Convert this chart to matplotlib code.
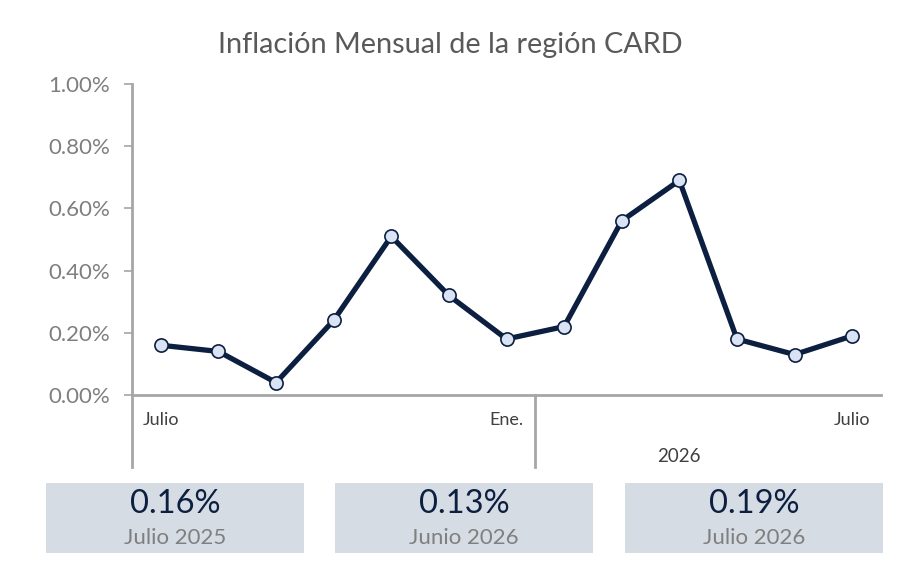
import matplotlib
matplotlib.use('Agg')
import matplotlib.pyplot as plt
from matplotlib.transforms import blended_transform_factory

# data
months = ['Jul', 'Ago', 'Sep', 'Oct', 'Nov', 'Dic', 'Ene', 'Feb', 'Mar', 'Abr', 'May', 'Jun', 'Jul']
inflation = [0.16, 0.14, 0.04, 0.24, 0.51, 0.32, 0.18, 0.22, 0.56, 0.69, 0.18, 0.13, 0.19]
tick_labels = {0: 'Julio', 6: 'Ene.', 12: 'Julio'}
year_label = '2026'
yticks = [0.0, 0.2, 0.4, 0.6, 0.8, 1.0]
card_values = ['0.16%', '0.13%', '0.19%']
card_labels = ['Julio 2025', 'Junio 2026', 'Julio 2026']

NAVY = '#0c1f40'
GRAY = '#7f7f7f'
AXIS = '#a6a6a6'
CARD = '#d6dce4'

plt.rcParams['font.family'] = ['Lato', 'DejaVu Sans']

W, H = 917, 584
fig = plt.figure(figsize=(W / 100, H / 100), dpi=100)
ax = fig.add_axes([132 / W, (H - 395) / H, (881 - 132) / W, (395 - 84) / H])

x = list(range(len(months)))
ax.plot(x, inflation, color=NAVY, lw=3.8, marker='o', ms=9.5,
        markerfacecolor='#dae3f3', markeredgecolor=NAVY, markeredgewidth=1.2,
        clip_on=False, zorder=3)

ax.set_xlim(-0.5, len(months) - 0.5)
ax.set_ylim(0, 1.0)
ax.set_yticks(yticks)
ax.set_yticklabels([f'{v:.2f}%' for v in yticks], color=GRAY, fontsize=16)
ax.tick_params(axis='y', length=6, color=AXIS, width=1.2, pad=10)
ax.set_xticks([])
for s in ['top', 'right']:
    ax.spines[s].set_visible(False)
for s in ['left', 'bottom']:
    ax.spines[s].set_color(AXIS)
    ax.spines[s].set_linewidth(2)

# category labels and group separators below the axis
tr = blended_transform_factory(ax.transData, fig.transFigure)
for i, lab in tick_labels.items():
    ax.text(i, (H - 420) / H, lab, transform=tr, ha='center', va='center',
            fontsize=13, color='#404040')
ax.text(9, (H - 456) / H, year_label, transform=tr, ha='center', va='center',
        fontsize=13.5, color='#404040')
for xs in [-0.5, 6.5]:
    ax.plot([xs, xs], [(H - 395) / H, (H - 467) / H], transform=tr,
            color=AXIS, lw=2, clip_on=False)

fig.text(450 / W, (H - 45) / H, 'Inflación Mensual de la región CARD',
         ha='center', va='center', fontsize=20.8, color='#595959')

# summary cards
card_x = [46, 335, 625]
for cx, val, lab in zip(card_x, card_values, card_labels):
    cax = fig.add_axes([cx / W, (H - 553) / H, 258 / W, 70 / H])
    cax.set_facecolor(CARD)
    cax.set_xticks([])
    cax.set_yticks([])
    for s in cax.spines.values():
        s.set_visible(False)
    cax.text(0.5, 0.70, val, ha='center', va='center', fontsize=23.5,
             color=NAVY, transform=cax.transAxes)
    cax.text(0.5, 0.21, lab, ha='center', va='center', fontsize=16,
             color=GRAY, transform=cax.transAxes)

fig.savefig('out.png', dpi=100)
